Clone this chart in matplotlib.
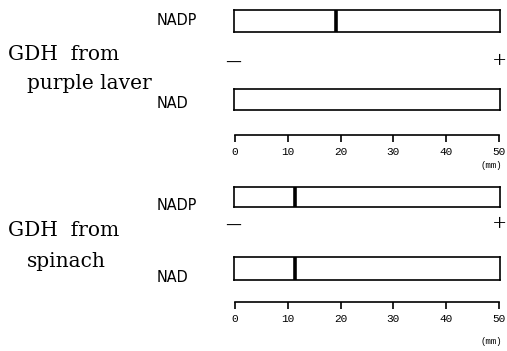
import matplotlib
matplotlib.use("Agg")
import matplotlib.pyplot as plt

# ---- data ----
panel_line1 = ["GDH  from", "GDH  from"]
panel_line2 = ["purple laver", "spinach"]
coenzymes = ["NADP", "NAD"]
# band position (mm) per panel, per coenzyme lane; None = no band
bands_purple_laver = [19.3, None]
bands_spinach = [11.4, 11.4]
scale_ticks = [0, 10, 20, 30, 40, 50]
scale_unit = "(mm)"

W, H = 507, 351
fig = plt.figure(figsize=(W / 100, H / 100), dpi=100)
fig.patch.set_facecolor("white")

def fx(px):
    return px / W

def fy(py):
    return 1 - py / H

LANE_X0, LANE_X1 = 234, 499.5
SCALE_X0, SCALE_X1 = 235, 499

layouts = [
    dict(lanes=[(10, 32), (89, 110)], label_base=[25, 108], sign_y=62,
         scale_y=135, unit_y=166, title_base=[60, 89], title_x=[8, 27]),
    dict(lanes=[(187, 207), (257, 280)], label_base=[210, 282], sign_y=225,
         scale_y=302, unit_y=341, title_base=[236, 267], title_x=[8, 27]),
]
band_sets = [bands_purple_laver, bands_spinach]

serif = ["DejaVu Serif"]
mono = ["Liberation Mono", "DejaVu Sans Mono"]

for p, lay in enumerate(layouts):
    for i, (y0, y1) in enumerate(lay["lanes"]):
        ax = fig.add_axes([fx(LANE_X0), fy(y1), fx(LANE_X1 - LANE_X0), (y1 - y0) / H])
        ax.set_xlim(scale_ticks[0], scale_ticks[-1])
        ax.set_ylim(0, 1)
        ax.set_xticks([])
        ax.set_yticks([])
        for s in ax.spines.values():
            s.set_linewidth(1.2)
            s.set_color("black")
        pos = band_sets[p][i]
        if pos is not None:
            ax.axvline(pos, color="black", lw=2.6)
        fig.text(fx(157), fy(lay["label_base"][i]), coenzymes[i], family="DejaVu Sans",
                 fontstretch="condensed", fontsize=11.5, ha="left", va="baseline")
    sax = fig.add_axes([fx(SCALE_X0), fy(lay["scale_y"]), fx(SCALE_X1 - SCALE_X0), 0.0001])
    sax.set_xlim(scale_ticks[0], scale_ticks[-1])
    sax.set_xticks(scale_ticks)
    sax.set_xticklabels([str(t) for t in scale_ticks], family=mono, fontsize=8)
    sax.set_yticks([])
    for k in ["top", "left", "right"]:
        sax.spines[k].set_visible(False)
    sax.spines["bottom"].set_linewidth(1.2)
    sax.tick_params(axis="x", direction="out", length=5, width=1.2, pad=3.5)
    sax.patch.set_alpha(0)
    fig.text(fx(491), fy(lay["unit_y"]), scale_unit, family=mono, fontsize=6.5,
             ha="center", va="center")
    fig.text(fx(233), fy(lay["sign_y"]), "\u2013", family=["Liberation Serif"], fontsize=20,
             ha="center", va="center")
    fig.text(fx(499), fy(lay["sign_y"]), "+", family=["Liberation Serif"], fontsize=17,
             ha="center", va="center")
    fig.text(fx(lay["title_x"][0]), fy(lay["title_base"][0]), panel_line1[p],
             family=serif, fontsize=14.5, ha="left", va="baseline")
    fig.text(fx(lay["title_x"][1]), fy(lay["title_base"][1]), panel_line2[p],
             family=serif, fontsize=14.5, ha="left", va="baseline")

fig.savefig("out.png", dpi=100, facecolor="white")
